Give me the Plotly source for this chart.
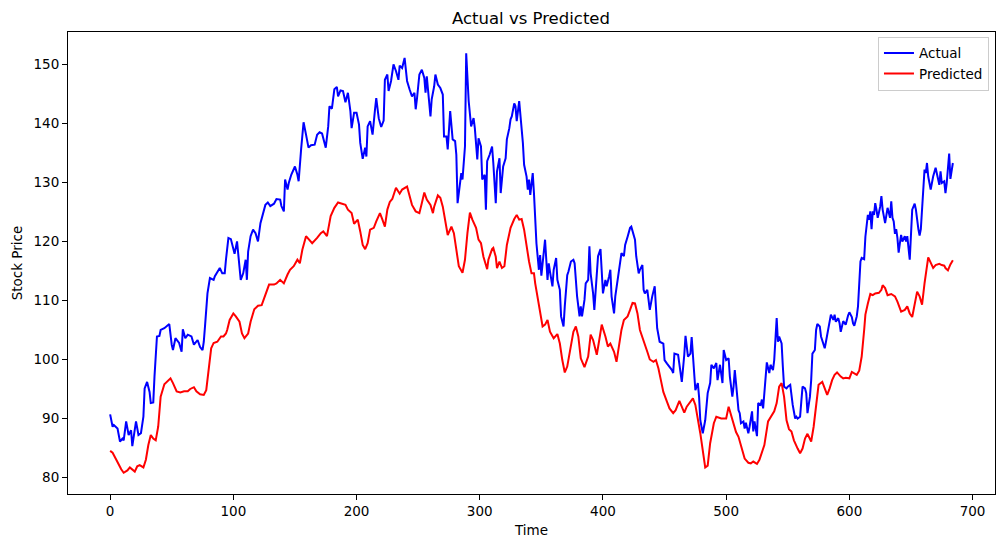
import plotly.graph_objects as go

# values
actual_t = [
    0, 2, 3, 6, 8, 10, 11, 13, 15, 17, 18, 21, 23, 25, 27, 28, 30, 32, 33, 35,
    36, 38, 40, 41, 44, 46, 48, 50, 51, 53, 56, 58, 59, 61, 63, 66, 68, 71, 73, 75,
    76, 77, 79, 81, 84, 85, 87, 89, 91, 93, 94, 96, 98, 100, 101, 103, 104, 106, 108, 110,
    111, 112, 114, 116, 118, 120, 122, 124, 126, 128, 130, 133, 135, 138, 139, 141, 142, 144, 145, 147,
    150, 152, 153, 155, 157, 159, 161, 163, 166, 168, 170, 172, 173, 175, 177, 178, 180, 182, 184, 185,
    187, 189, 191, 193, 195, 196, 198, 200, 202, 203, 205, 207, 208, 209, 211, 213, 215, 216, 218, 220,
    222, 223, 225, 226, 228, 230, 232, 234, 235, 237, 239, 241, 243, 245, 247, 248, 249, 251, 253, 255,
    256, 257, 260, 261, 263, 264, 266, 268, 270, 271, 273, 274, 276, 278, 280, 281, 282, 284, 285, 286,
    288, 289, 290, 291, 293, 295, 296, 298, 299, 301, 302, 304, 305, 306, 308, 310, 311, 313, 314, 316,
    317, 319, 321, 322, 324, 325, 326, 328, 329, 330, 332, 334, 335, 336, 338, 339, 340, 341, 343, 344,
    345, 346, 348, 349, 350, 352, 353, 355, 356, 357, 359, 360, 362, 363, 365, 366, 368, 369, 371, 372,
    374, 376, 377, 379, 381, 382, 383, 385, 386, 388, 389, 390, 392, 393, 395, 396, 398, 399, 400, 402,
    403, 405, 406, 407, 409, 410, 412, 413, 415, 417, 418, 420, 422, 423, 425, 426, 427, 429, 430, 432,
    433, 434, 436, 437, 438, 440, 441, 442, 444, 446, 449, 450, 452, 454, 456, 457, 458, 461, 462, 464,
    466, 467, 469, 471, 472, 474, 475, 477, 478, 479, 481, 483, 485, 487, 488, 490, 492, 493, 495, 497,
    498, 500, 502, 503, 505, 506, 507, 508, 510, 511, 512, 514, 515, 516, 518, 519, 521, 522, 523, 525,
    526, 528, 529, 530, 532, 533, 535, 536, 538, 539, 541, 542, 543, 545, 546, 547, 549, 550, 552, 553,
    554, 556, 557, 558, 560, 561, 562, 564, 565, 566, 568, 569, 570, 572, 573, 574, 576, 577, 579, 580,
    581, 583, 584, 585, 587, 588, 589, 591, 592, 593, 595, 597, 599, 600, 602, 603, 604, 606, 607, 608,
    609, 610, 612, 613, 614, 615, 616, 617, 618, 619, 620, 621, 622, 623, 624, 625, 626, 627, 629, 630,
    631, 633, 634, 635, 636, 637, 638, 639, 640, 641, 642, 643, 645, 646, 647, 649, 650, 651, 653, 654,
    656, 657, 658, 660, 661, 662, 663, 664, 666, 667, 668, 670, 671, 673, 674, 675, 677, 678, 679, 680,
    681, 682, 683, 684,
]
actual_price = [
    90.7, 88.6, 88.9, 88.3, 86.1, 86.6, 86.3, 89.5, 87.2, 88.0, 85.3, 89.5, 87.2, 87.5, 90.3, 95.1, 96.2, 94.5, 92.6, 92.7,
    97.1, 103.9, 104.0, 105.0, 105.3, 105.6, 106.0, 102.5, 101.6, 103.6, 102.8, 101.3, 105.1, 103.6, 104.2, 103.9, 102.5, 103.3, 102.1, 101.6,
    103.0, 105.6, 111.2, 113.8, 113.5, 114.1, 114.9, 115.5, 114.6, 114.6, 116.9, 120.6, 120.4, 118.6, 117.9, 120.0, 117.5, 113.5, 114.6, 116.9,
    113.5, 118.3, 120.9, 122.0, 121.4, 120.0, 123.1, 124.9, 126.2, 126.6, 126.0, 126.4, 127.2, 127.1, 126.0, 125.1, 130.5, 128.8, 129.9, 131.3,
    132.7, 131.3, 130.2, 135.6, 140.2, 138.1, 135.9, 136.3, 136.4, 138.1, 138.5, 138.3, 137.3, 135.9, 139.5, 142.9, 142.5, 145.8, 146.2, 144.6,
    145.6, 145.5, 143.6, 145.2, 142.1, 139.2, 141.8, 141.8, 139.8, 136.7, 134.0, 135.9, 134.4, 139.5, 140.4, 138.1, 142.4, 144.3, 140.9, 139.4,
    140.5, 147.4, 148.3, 145.5, 147.2, 150.0, 148.9, 147.4, 149.8, 149.4, 151.1, 147.2, 145.8, 144.6, 145.2, 142.4, 144.1, 148.3, 149.1, 147.7,
    145.2, 148.0, 141.2, 144.1, 146.3, 148.3, 146.6, 146.0, 144.9, 137.8, 137.8, 135.6, 142.1, 137.3, 137.0, 134.7, 126.5, 130.5, 131.6, 130.5,
    136.1, 151.9, 147.4, 143.8, 139.5, 140.9, 139.2, 133.9, 137.5, 136.1, 130.5, 131.3, 125.4, 133.6, 134.7, 136.1, 133.3, 126.5, 131.9, 134.1,
    128.2, 132.7, 134.1, 137.3, 139.2, 140.7, 141.2, 143.4, 142.9, 140.4, 143.8, 139.8, 136.7, 133.0, 131.0, 128.8, 130.5, 127.9, 131.6, 128.2,
    123.1, 119.7, 115.2, 117.7, 114.2, 118.0, 120.3, 113.5, 116.3, 114.9, 112.4, 115.2, 117.2, 113.5, 111.8, 107.3, 105.6, 109.0, 114.3, 114.9,
    116.6, 116.9, 116.3, 110.7, 107.3, 109.0, 107.3, 110.1, 112.9, 113.5, 119.2, 114.6, 111.2, 108.4, 114.6, 117.5, 118.7, 114.1, 111.2, 113.5,
    112.4, 114.1, 115.2, 110.7, 107.8, 110.7, 113.8, 115.5, 118.0, 117.5, 119.4, 120.8, 122.3, 122.5, 121.1, 120.3, 117.5, 114.6, 115.2, 116.0,
    111.8, 111.2, 111.8, 109.8, 108.4, 110.7, 111.5, 112.4, 105.3, 103.0, 102.7, 99.9, 99.3, 98.8, 98.2, 97.7, 101.0, 100.8, 99.4, 96.2,
    100.8, 104.0, 100.5, 101.0, 103.8, 98.2, 94.8, 96.0, 93.7, 89.7, 87.5, 89.7, 94.3, 96.0, 99.1, 98.5, 99.4, 96.5, 99.1, 96.0,
    101.6, 99.9, 100.2, 97.1, 93.7, 95.4, 98.2, 96.0, 91.4, 90.9, 89.2, 89.5, 88.3, 89.3, 87.5, 88.6, 91.2, 87.8, 89.5, 87.0,
    92.6, 92.3, 93.2, 91.7, 98.2, 99.5, 97.7, 99.1, 98.2, 99.9, 107.0, 103.0, 103.9, 102.7, 98.8, 95.4, 95.1, 95.4, 95.7, 93.7,
    92.3, 90.0, 90.3, 90.0, 90.3, 92.9, 95.4, 95.1, 94.3, 90.9, 93.7, 96.5, 101.0, 101.6, 105.0, 106.0, 105.6, 103.9, 102.7, 101.9,
    103.0, 105.0, 106.3, 107.6, 106.7, 107.6, 106.4, 107.0, 106.2, 104.7, 106.5, 105.9, 107.5, 108.0, 107.2, 106.1, 105.7, 107.3, 109.0, 112.9,
    116.6, 117.2, 117.0, 120.8, 123.4, 124.5, 123.7, 125.1, 122.1, 125.1, 124.5, 126.5, 125.4, 124.0, 124.9, 125.9, 127.7, 125.4, 123.1, 124.2,
    125.7, 124.0, 126.8, 124.0, 123.4, 121.3, 122.1, 120.6, 118.1, 119.7, 121.1, 120.0, 120.9, 120.0, 120.9, 116.9, 122.0, 125.4, 126.4, 125.4,
    122.1, 121.0, 122.1, 130.5, 132.2, 131.6, 133.3, 131.0, 128.8, 129.9, 131.0, 132.5, 131.3, 129.6, 131.9, 129.9, 130.2, 128.2, 129.9, 132.2,
    134.9, 130.6, 132.2, 133.3,
]

pred_t = [
    0, 2, 5, 7, 9, 11, 14, 16, 18, 20, 22, 24, 27, 29, 31, 33, 35, 37, 39, 41,
    44, 46, 49, 51, 54, 57, 60, 63, 65, 68, 70, 73, 76, 78, 80, 82, 84, 87, 90, 92,
    94, 95, 97, 100, 102, 105, 107, 109, 112, 114, 117, 120, 123, 126, 129, 133, 135, 138, 141, 144,
    146, 149, 152, 154, 156, 159, 162, 164, 168, 171, 173, 176, 179, 182, 185, 188, 191, 193, 196, 198,
    201, 203, 205, 207, 209, 211, 214, 216, 219, 221, 223, 225, 227, 229, 232, 235, 237, 241, 243, 245,
    248, 251, 253, 255, 257, 260, 262, 263, 266, 268, 270, 272, 274, 277, 279, 281, 283, 286, 288, 290,
    292, 294, 297, 299, 301, 303, 306, 307, 310, 311, 313, 314, 316, 318, 320, 322, 325, 328, 330, 332,
    334, 336, 338, 340, 342, 344, 345, 347, 349, 351, 353, 355, 357, 360, 363, 365, 367, 369, 371, 374,
    376, 378, 380, 382, 385, 388, 390, 392, 395, 397, 399, 402, 404, 406, 409, 411, 413, 415, 417, 420,
    422, 424, 426, 428, 430, 433, 436, 438, 441, 443, 445, 447, 449, 452, 454, 457, 459, 462, 464, 466,
    468, 471, 473, 475, 477, 479, 481, 483, 485, 487, 490, 492, 496, 500, 502, 505, 508, 510, 513, 515,
    518, 520, 522, 525, 527, 529, 531, 534, 537, 539, 541, 543, 545, 547, 549, 551, 553, 555, 558, 560,
    562, 564, 566, 567, 569, 571, 573, 575, 578, 580, 582, 584, 586, 588, 590, 593, 595, 597, 600, 602,
    604, 606, 608, 610, 612, 613, 615, 617, 619, 621, 624, 626, 627, 629, 631, 634, 637, 639, 642, 645,
    647, 649, 651, 653, 655, 657, 659, 661, 663, 664, 666, 668, 670, 673, 675, 677, 678, 680, 682, 684,
]
pred_price = [
    84.5, 84.2, 83.0, 82.1, 81.4, 80.8, 81.2, 81.7, 81.4, 81.0, 81.9, 82.1, 81.7, 83.0, 85.5, 87.2, 86.6, 86.3, 88.6, 93.7,
    95.8, 96.2, 96.8, 96.0, 94.6, 94.4, 94.6, 94.6, 95.0, 95.3, 94.6, 94.1, 94.0, 94.8, 98.2, 101.9, 102.8, 103.0, 103.9, 103.9,
    104.4, 105.0, 106.7, 107.8, 107.3, 106.4, 104.4, 103.6, 104.4, 106.4, 108.5, 109.1, 109.2, 110.9, 112.7, 112.7, 112.9, 113.5, 112.9, 114.4,
    115.2, 115.8, 116.9, 116.3, 118.6, 120.9, 120.2, 119.7, 120.6, 121.4, 121.7, 120.9, 124.3, 125.7, 126.6, 126.4, 126.2, 125.4, 124.8, 123.0,
    123.7, 121.7, 119.4, 118.7, 119.7, 122.0, 122.3, 123.4, 124.8, 123.7, 122.5, 125.4, 126.7, 127.2, 129.1, 128.1, 128.8, 129.3, 127.9, 126.2,
    125.1, 124.8, 126.5, 128.3, 127.1, 126.2, 124.8, 125.9, 127.8, 127.4, 125.9, 123.4, 121.1, 122.5, 121.4, 118.6, 115.8, 114.7, 116.9, 121.4,
    124.9, 123.7, 122.3, 120.3, 119.7, 117.4, 115.3, 116.9, 118.7, 118.9, 117.4, 115.5, 116.6, 115.5, 115.8, 119.4, 122.3, 123.8, 124.5, 123.7,
    123.8, 122.0, 119.1, 116.6, 114.6, 114.6, 112.9, 110.4, 107.8, 105.6, 105.9, 106.7, 104.7, 103.6, 104.3, 102.7, 99.9, 97.8, 98.8, 102.7,
    104.7, 105.6, 103.9, 100.2, 98.7, 100.5, 104.2, 103.3, 100.8, 103.3, 105.9, 103.9, 102.2, 102.7, 101.3, 99.6, 102.5, 105.0, 106.7, 107.3,
    108.4, 109.6, 109.5, 107.8, 105.0, 103.3, 101.3, 100.0, 99.6, 99.9, 98.5, 96.5, 94.5, 92.8, 91.7, 90.9, 91.4, 93.0, 92.0, 91.0,
    92.0, 92.8, 93.4, 92.3, 90.2, 87.5, 84.6, 81.7, 82.0, 85.8, 89.2, 90.3, 90.0, 90.0, 92.0, 89.7, 87.7, 86.9, 84.6, 83.2,
    82.5, 82.4, 82.7, 82.3, 83.0, 84.4, 85.5, 89.5, 90.6, 91.2, 92.6, 95.4, 96.0, 93.7, 89.7, 88.2, 87.8, 86.3, 84.9, 84.1,
    84.9, 86.6, 87.4, 86.9, 86.1, 88.6, 92.6, 95.7, 96.2, 95.0, 94.0, 95.1, 96.5, 97.4, 97.8, 97.1, 96.8, 96.9, 96.8, 97.9,
    97.6, 97.4, 98.1, 100.5, 105.0, 107.6, 109.5, 111.1, 110.9, 111.2, 111.3, 111.8, 112.6, 112.1, 110.9, 111.1, 110.7, 109.8, 108.1, 108.4,
    109.0, 107.8, 107.2, 109.5, 111.5, 110.7, 109.3, 112.9, 116.3, 117.3, 116.4, 115.5, 116.0, 116.2, 116.0, 115.9, 115.5, 115.1, 116.1, 116.8,
]

x_ticks = [0, 100, 200, 300, 400, 500, 600, 700]
y_ticks = [80, 90, 100, 110, 120, 130, 140, 150]

font = "DejaVu Sans"

# the page body has an 8px margin, so the figure is 8px smaller than the window
W, H = 997, 539

fig = go.Figure()
fig.add_trace(go.Scatter(x=actual_t, y=actual_price, mode="lines", name="Actual",
                         line=dict(color="blue", width=2)))
fig.add_trace(go.Scatter(x=pred_t, y=pred_price, mode="lines", name="Predicted",
                         line=dict(color="red", width=2)))

axis_common = dict(
    showline=True, linecolor="black", linewidth=1, mirror=True,
    showgrid=False, zeroline=False,
    ticks="outside", ticklen=5, tickwidth=1, tickcolor="black",
    tickfont=dict(family=font, size=13.5, color="black"),
)
label_font = dict(family=font, size=13.5, color="black")

fig.update_layout(
    width=W, height=H,
    margin=dict(l=59, r=9, t=24, b=53),
    paper_bgcolor="white", plot_bgcolor="white",
    font=dict(family=font, size=13.5, color="black"),
    title=dict(text="Actual vs Predicted", x=523 / W, xanchor="center",
               y=1 - 10 / H, yanchor="middle", yref="container",
               font=dict(family=font, size=16.5, color="black")),
    xaxis=dict(range=[-34.2, 718.2], tickvals=x_ticks,
               title=dict(text="Time", standoff=7, font=label_font), **axis_common),
    yaxis=dict(range=[77.2, 155.5], tickvals=y_ticks,
               title=dict(text="Stock Price", standoff=7, font=label_font), **axis_common),
    legend=dict(x=0.9935, xanchor="right", y=0.99, yanchor="top",
                bgcolor="rgba(255,255,255,0.8)", bordercolor="#cccccc", borderwidth=1,
                font=dict(family=font, size=13.5, color="black"),
                itemwidth=30, tracegroupgap=0),
    showlegend=True,
)

fig.write_html("out.html")
